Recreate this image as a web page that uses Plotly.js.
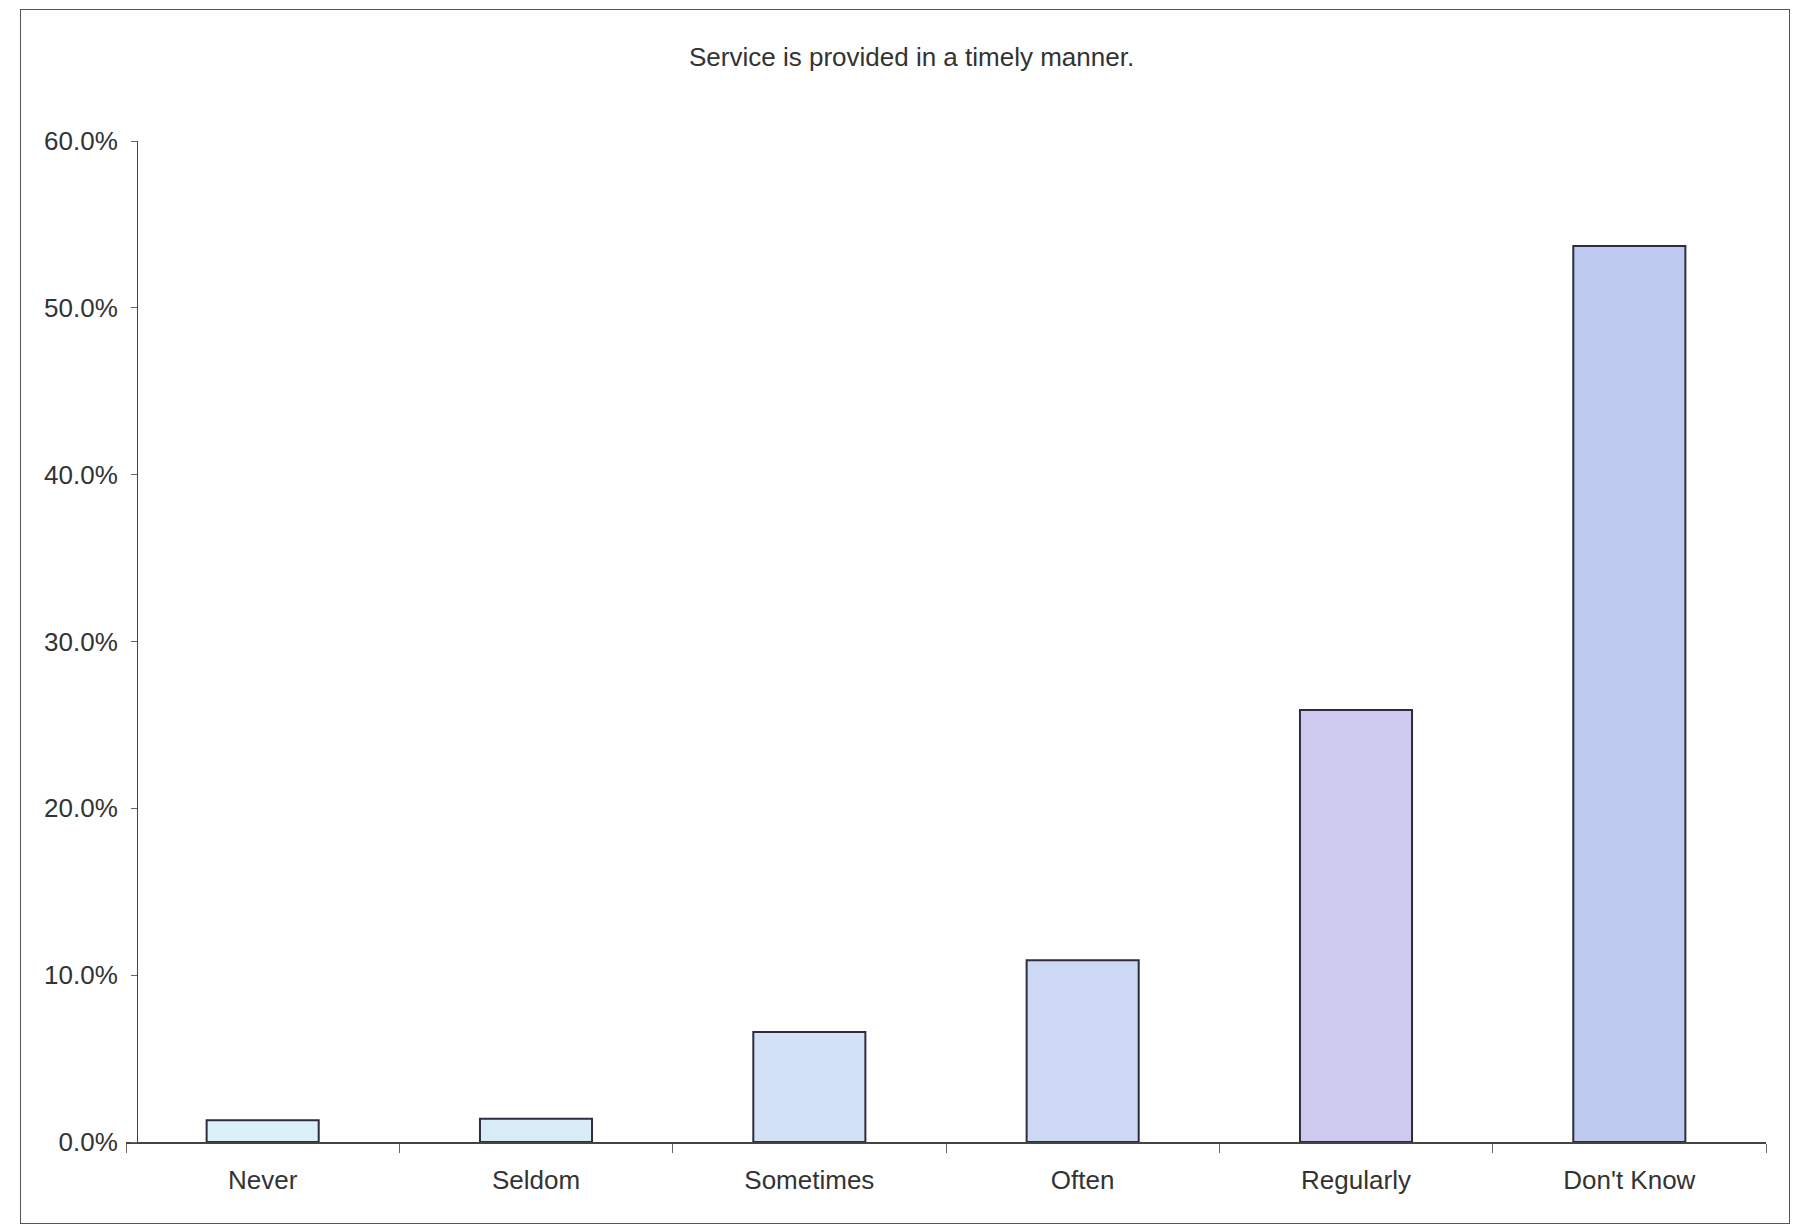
<!DOCTYPE html>
<html>
<head>
<meta charset="utf-8">
<script src="https://cdn.plot.ly/plotly-3.0.1.min.js"></script>
<style>
  html, body { margin: 0; padding: 0; background: #fff; }
  #wrap { position: relative; width: 1798px; height: 1229px; }
  #frame { position: absolute; left: 20px; top: 9px; width: 1770px; height: 1215px; border: 1.5px solid #555; box-sizing: border-box; pointer-events: none; }
  #chart { position: absolute; left: 0; top: 0; width: 1798px; height: 1229px; }
</style>
</head>
<body>
<div id="wrap">
  <div id="chart"></div>
  <div id="frame"></div>
</div>
<script>
const categories = ["Never", "Seldom", "Sometimes", "Often", "Regularly", "Don't Know"];
const percentValues = [1.3, 1.4, 6.6, 10.9, 25.9, 53.7];
const barColors = ["#dcf0fa", "#d8ecf8", "#d3e1f6", "#cdd9f4", "#cdc9ef", "#bfcaf1"];
const yTickValues = [0, 10, 20, 30, 40, 50, 60];
const titleText = "Service is provided in a timely manner.";

const trace = {
  type: "bar",
  x: categories,
  y: percentValues,
  marker: { color: barColors, line: { color: "#2d2d3d", width: 2 } },
  hoverinfo: "x+y"
};

const font = { family: "Arial, 'Liberation Sans', sans-serif", size: 26, color: "#333" };

const layout = {
  width: 1798,
  height: 1229,
  paper_bgcolor: "#ffffff",
  plot_bgcolor: "#ffffff",
  margin: { l: 126, r: 32, t: 141, b: 87, pad: 0 },
  showlegend: false,
  bargap: 0.59,
  font: font,
  title: {
    text: titleText,
    font: { family: font.family, size: 26, color: "#333" },
    x: 0.507, xref: "container", xanchor: "center",
    y: 0.9536, yref: "container", yanchor: "middle"
  },
  xaxis: {
    type: "category",
    showline: true, linecolor: "#444", linewidth: 1.5,
    ticks: "outside", tickson: "boundaries", ticklen: 9, tickcolor: "#666", tickwidth: 1,
    ticklabelstandoff: 14,
    showgrid: false, zeroline: false,
    tickfont: font,
    automargin: false
  },
  yaxis: {
    range: [0, 60],
    tickvals: yTickValues,
    ticktext: yTickValues.map(v => v.toFixed(1) + "%"),
    showline: true, linecolor: "#444", linewidth: 1.5,
    ticks: "outside", ticklen: 6, tickcolor: "#666", tickwidth: 1,
    ticklabelstandoff: 8,
    showgrid: false, zeroline: false,
    tickfont: font,
    anchor: "free", position: 0.0067,
    automargin: false
  }
};

Plotly.newPlot("chart", [trace], layout, { displayModeBar: false, staticPlot: true });
</script>
</body>
</html>
